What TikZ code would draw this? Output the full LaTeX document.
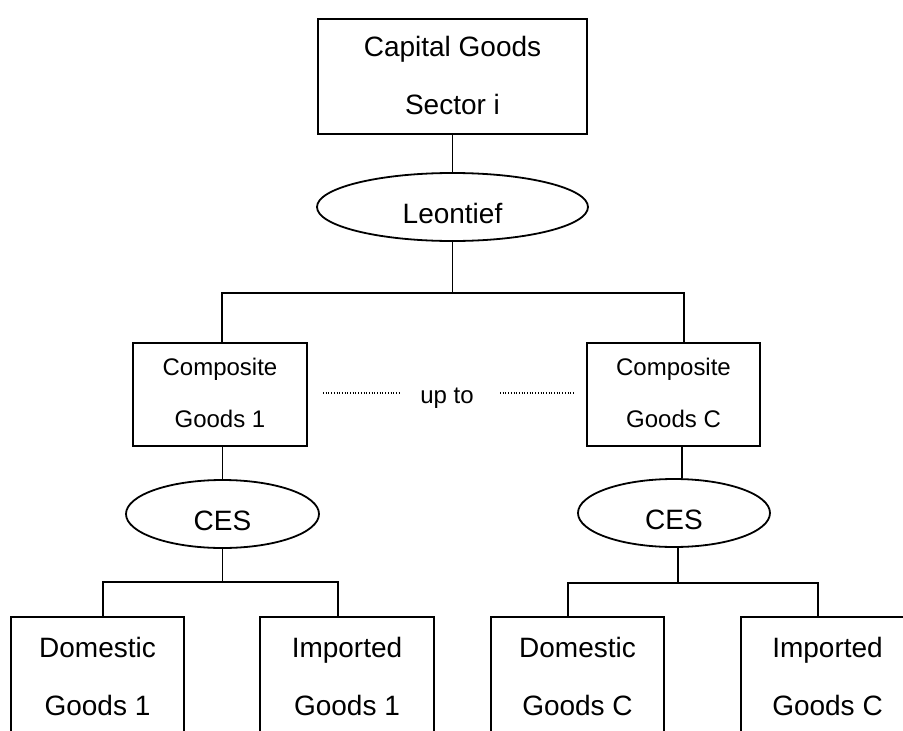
\documentclass[tikz,border=0pt]{standalone}
\usepackage{fontspec}
\setmainfont{Liberation Sans}
\usetikzlibrary{shapes.geometric}
\begin{document}
\begin{tikzpicture}[x=1pt,y=-1pt,line width=1.8pt,
  box/.style={draw,rectangle,inner sep=0pt,align=center,text depth=3pt},
  oval/.style={draw,ellipse,inner sep=0pt,text height=32pt,text depth=0pt},
  big/.style={font=\fontsize{28}{58}\selectfont},
  mid/.style={font=\fontsize{24}{52}\selectfont},
  dotline/.style={line width=1.2pt,dash pattern=on 1pt off 1.7pt}]
\useasboundingbox (0,0) rectangle (903,731);
\clip (0,0) rectangle (903,731);

% top
\node[box,big,minimum width=269pt,minimum height=115pt] (cap) at (452.5,76.5) {Capital Goods\\Sector i};
\node[oval,big,minimum width=271pt,minimum height=68pt] (leo) at (452.5,207) {Leontief};

% composite goods
\node[box,mid,minimum width=174pt,minimum height=103pt] (cg1) at (220,394.5) {Composite\\Goods 1};
\node[box,mid,minimum width=173pt,minimum height=103pt] (cgC) at (673.5,394.5) {Composite\\Goods C};
\node[font=\fontsize{24}{28}\selectfont,anchor=base,inner sep=0pt] (upto) at (447,403) {up to};

% CES
\node[oval,big,minimum width=193pt,minimum height=68pt] (ces1) at (222.5,514) {CES};
\node[oval,big,minimum width=192pt,minimum height=68pt] (cesC) at (674,513) {CES};

% bottom goods
\node[box,big,minimum width=173pt,minimum height=121pt] (dom1) at (97.5,677.5) {Domestic\\Goods 1};
\node[box,big,minimum width=174pt,minimum height=121pt] (imp1) at (347,677.5) {Imported\\Goods 1};
\node[box,big,minimum width=173pt,minimum height=121pt] (domC) at (577.5,677.5) {Domestic\\Goods C};
\node[box,big,minimum width=173pt,minimum height=121pt] (impC) at (827.5,677.5) {Imported\\Goods C};

% junction coordinates
\coordinate (j1L) at (222,293);
\coordinate (j1R) at (684,293);
\coordinate (j2L) at (103,582);
\coordinate (j2R) at (338,582);
\coordinate (j3L) at (568,583);
\coordinate (j3R) at (818,583);
\coordinate (dl1) at (323,393);
\coordinate (dl2) at (400,393);
\coordinate (dr1) at (500,393);
\coordinate (dr2) at (573,393);

% connectors
\draw (cap.south) -- (leo.north);
\draw (leo.south) -- (leo.south |- j1L);
\draw (j1L |- cg1.north) -- (j1L) -- (j1R) -- (j1R |- cgC.north);
\draw (ces1.north |- cg1.south) -- (ces1.north);
\draw ([xshift=8.5pt]cgC.south) -- ([xshift=8.5pt]cgC.south |- cesC.north);
\draw (ces1.south) -- (ces1.south |- j2L);
\draw (j2L |- dom1.north) -- (j2L) -- (j2R) -- (j2R |- imp1.north);
\draw ([xshift=4pt]cesC.south) -- ([xshift=4pt]cesC.south |- j3L);
\draw (j3L |- domC.north) -- (j3L) -- (j3R) -- (j3R |- impC.north);

% dotted "up to" lines
\draw[dotline] (dl1) -- (dl2);
\draw[dotline] (dr1) -- (dr2);
\end{tikzpicture}
\end{document}
